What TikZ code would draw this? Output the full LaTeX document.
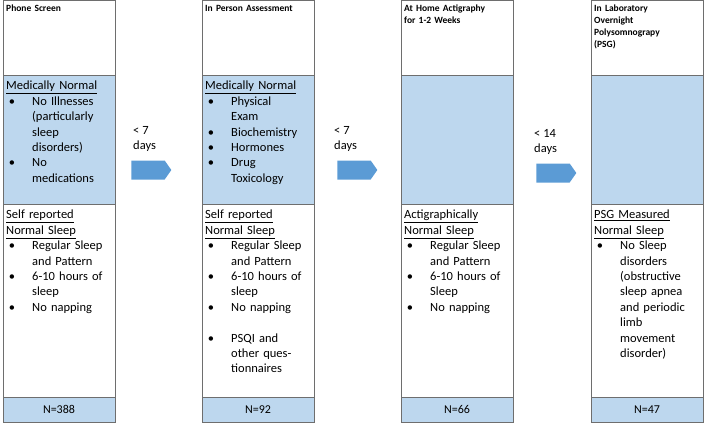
\documentclass[tikz,border=0pt]{standalone}
\usepackage{fontspec}
\setmainfont{Carlito}
\usepackage{enumitem}
\usetikzlibrary{shapes.arrows}
\definecolor{bandblue}{RGB}{189,215,238}
\definecolor{arrowblue}{RGB}{91,155,213}
\definecolor{edgegray}{RGB}{110,110,110}
\newcommand{\ul}[1]{\underline{#1}}
\newenvironment{blist}{\begin{itemize}[leftmargin=26pt,labelsep=17pt,nosep,label=\textbullet]}{\end{itemize}}
\tikzset{
  colbox/.style={draw=edgegray, line width=0.7pt},
  band/.style={colbox, fill=bandblue},
  head/.style={anchor=north west, inner sep=3pt, text width=98pt, font=\bfseries\fontsize{9.5}{12}\selectfont, align=left},
  body/.style={anchor=north west, inner sep=3pt, text width=97pt, font=\fontsize{12.5}{15.4}\selectfont, align=left},
  count/.style={font=\fontsize{12}{14}\selectfont},
  gap/.style={anchor=north west, font=\fontsize{12.5}{15.4}\selectfont, align=left, inner sep=0pt},
  steparrow/.style={single arrow, fill=arrowblue, draw=none, minimum width=19pt, single arrow head extend=0pt, inner sep=0pt, minimum height=40pt, single arrow tip angle=110}
}
\begin{document}
\begin{tikzpicture}[x=1pt, y=-1pt]
\useasboundingbox (0,0) rectangle (704,424);
% Columns
\foreach \name/\x in {phone/3, person/202, home/401, lab/591}{
  \draw[colbox] (\x,0) rectangle (\x+112,75);
  \draw[band] (\x,75) rectangle (\x+112,204);
  \draw[colbox] (\x,204) rectangle (\x+112,397);
  \draw[band] (\x,397) rectangle (\x+112,422);
  \coordinate (\name) at (\x,0);
}
% Headers
\node[head] (phonehead) at (3,2) {Phone Screen};
\node[head] (personhead) at (202,2) {In Person Assessment};
\node[head] (homehead) at (401,2) {At Home Actigraphy\\for 1-2 Weeks};
\node[head] (labhead) at (591,2) {In Laboratory\\Overnight\\Polysomnograpy\\(PSG)};
% Medical rows
\node[body] (phonemed) at (3,78) {\ul{Medically Normal}
  \begin{blist}\item No Illnesses (particularly sleep disorders) \item No medications\end{blist}};
\node[body] (personmed) at (202,78) {\ul{Medically Normal}
  \begin{blist}\item Physical Exam \item Biochemistry \item Hormones \item Drug\\Toxicology\end{blist}};
% Sleep rows
\node[body] (phonesleep) at (3,207) {\ul{Self reported}\\\ul{Normal Sleep}
  \begin{blist}\item Regular Sleep and Pattern \item 6-10 hours of sleep \item No napping\end{blist}};
\node[body] (personsleep) at (202,207) {\ul{Self reported}\\\ul{Normal Sleep}
  \begin{blist}\item Regular Sleep and Pattern \item 6-10 hours of sleep \item No napping \item[] \item PSQI and other questionnaires\end{blist}};
\node[body] (homesleep) at (401,207) {\ul{Actigraphically}\\\ul{Normal Sleep}
  \begin{blist}\item Regular Sleep and Pattern \item 6-10 hours of Sleep \item No napping\end{blist}};
\node[body] (labsleep) at (591,207) {\ul{PSG Measured}\\\ul{Normal Sleep}
  \begin{blist}\item No Sleep disorders (obstructive sleep apnea and periodic limb movement disorder)\end{blist}};
% Counts
\node[count] (phonen) at (59,409.5) {N=388};
\node[count] (personn) at (258,409.5) {N=92};
\node[count] (homen) at (457,409.5) {N=66};
\node[count] (labn) at (647,409.5) {N=47};
% Gaps between steps
\node[gap] (gapa) at (133,126) {< 7\\days};
\node[steparrow] (arrowa) at (148,170) {};
\node[gap] (gapb) at (334,126) {< 7\\days};
\node[steparrow] (arrowb) at (354,170) {};
\node[gap] (gapc) at (534,129) {< 14\\days};
\node[steparrow] (arrowc) at (553,173) {};
\end{tikzpicture}
\end{document}
